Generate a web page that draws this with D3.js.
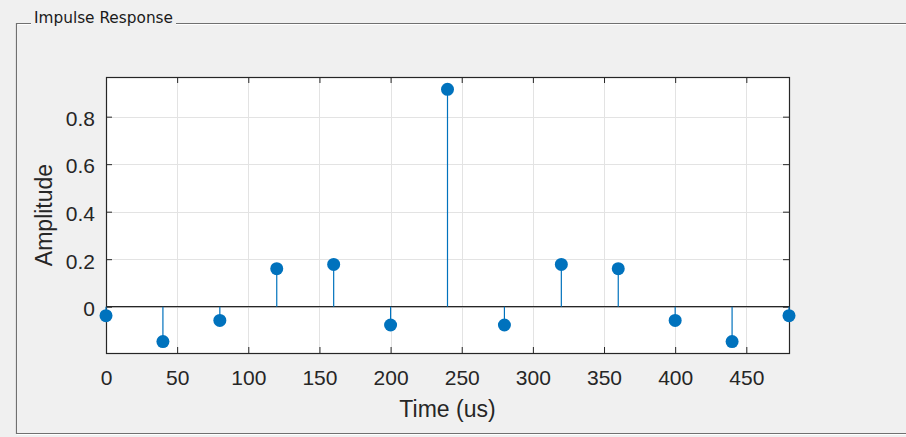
<!DOCTYPE html>
<html>
<head>
<meta charset="utf-8">
<script src="https://cdn.jsdelivr.net/npm/d3@7"></script>
<style>
  html, body { margin: 0; padding: 0; background: #f0f0f0; }
  svg { display: block; }
  text { font-family: "Liberation Sans", Arial, sans-serif; fill: #262626; }
</style>
</head>
<body>
<svg id="chart" width="906" height="437"></svg>
<script>
// Impulse response samples (time in microseconds, amplitude)
const times = [0, 40, 80, 120, 160, 200, 240, 280, 320, 360, 400, 440, 480];
const amplitudes = [-0.038, -0.147, -0.058, 0.160, 0.178, -0.077, 0.915, -0.077, 0.178, 0.160, -0.058, -0.147, -0.038];
const xTicks = [0, 50, 100, 150, 200, 250, 300, 350, 400, 450];
const yTicks = [0, 0.2, 0.4, 0.6, 0.8];
const xDomain = [0, 480];
const yDomain = [-0.195, 0.967];

const panelTitle = "Impulse Response";
const xLabel = "Time (us)";
const yLabel = "Amplitude";

const svg = d3.select("#chart");
const W = 906, H = 437;

// Panel frame (etched border with title gap)
const panel = { left: 16, top: 23, bottom: 433, titleX: 34 };
const frame = svg.append("g");
frame.append("text")
  .attr("x", panel.titleX).attr("y", panel.top + 0)
  .attr("font-size", 15.5)
  .style("font-family", "'DejaVu Sans', 'Liberation Sans', sans-serif")
  .style("fill", "#1a1a1a")
  .attr("textLength", 139)
  .attr("lengthAdjust", "spacingAndGlyphs")
  .text(panelTitle);
const titleEnd = panel.titleX + 139 + 3;

function etched(d) {
  frame.append("path").attr("d", d).attr("fill", "none").attr("stroke", "#707070").attr("stroke-width", 1.2);
}
function highlight(d) {
  frame.append("path").attr("d", d).attr("fill", "none").attr("stroke", "#ffffff").attr("stroke-width", 1);
}
const L = panel.left + 0.5, T = panel.top + 0.5, B = panel.bottom + 0.5;
highlight(`M${L + 1},${T + 1}H${panel.titleX - 3}M${titleEnd},${T + 1}H${W}M${L + 1},${T + 1}V${B - 1}M${L},${B + 1}H${W}`);
etched(`M${panel.titleX - 3},${T}H${L}V${B}H${W}M${titleEnd},${T}H${W}`);

// Axes
const plot = { left: 106, right: 789, top: 77, bottom: 353 };
const x = d3.scaleLinear().domain(xDomain).range([plot.left, plot.right]);
const y = d3.scaleLinear().domain(yDomain).range([plot.bottom, plot.top]);

svg.append("rect")
  .attr("x", plot.left).attr("y", plot.top)
  .attr("width", plot.right - plot.left).attr("height", plot.bottom - plot.top)
  .attr("fill", "#ffffff");

// Grid lines
const grid = svg.append("g").attr("stroke", "#e3e3e3").attr("stroke-width", 1);
grid.selectAll(".gx").data(xTicks.filter(t => t > xDomain[0])).join("line")
  .attr("x1", d => Math.round(x(d)) + 0.5).attr("x2", d => Math.round(x(d)) + 0.5)
  .attr("y1", plot.top).attr("y2", plot.bottom);
grid.selectAll(".gy").data(yTicks).join("line")
  .attr("y1", d => Math.round(y(d)) + 0.5).attr("y2", d => Math.round(y(d)) + 0.5)
  .attr("x1", plot.left).attr("x2", plot.right);

// Axes with inward ticks
const axisColor = "#262626";
const xAxisBottom = svg.append("g")
  .attr("transform", `translate(0,${plot.bottom})`)
  .call(d3.axisBottom(x).tickValues(xTicks).tickSize(-6).tickPadding(17).tickFormat(d3.format("d")));
const xAxisTop = svg.append("g")
  .attr("transform", `translate(0,${plot.top})`)
  .call(d3.axisTop(x).tickValues(xTicks).tickSize(-6).tickFormat(""));
const yAxisLeft = svg.append("g")
  .attr("transform", `translate(${plot.left},0)`)
  .call(d3.axisLeft(y).tickValues(yTicks).tickSize(-6).tickPadding(11).tickFormat(d => d === 0 ? "0" : d3.format(".1f")(d)));
const yAxisRight = svg.append("g")
  .attr("transform", `translate(${plot.right},0)`)
  .call(d3.axisRight(y).tickValues(yTicks).tickSize(-6).tickFormat(""));

[xAxisBottom, xAxisTop, yAxisLeft, yAxisRight].forEach(g => {
  g.select(".domain").remove();
  g.selectAll(".tick line").attr("stroke", axisColor);
  g.selectAll(".tick text")
    .attr("font-size", 21)
    .style("font-family", "'Liberation Sans', Arial, sans-serif")
    .attr("fill", "#303030");
});
yAxisLeft.selectAll(".tick text").attr("dy", "0.42em");

// Axes box
svg.append("rect")
  .attr("x", plot.left + 0.5).attr("y", plot.top + 0.5)
  .attr("width", plot.right - plot.left).attr("height", plot.bottom - plot.top)
  .attr("fill", "none").attr("stroke", axisColor).attr("stroke-width", 1.2);

// Stem baseline at zero
svg.append("line")
  .attr("x1", plot.left).attr("x2", plot.right)
  .attr("y1", y(0)).attr("y2", y(0))
  .attr("stroke", axisColor).attr("stroke-width", 1.2);

// Stems and markers
const data = times.map((t, i) => ({ t, v: amplitudes[i] }));
const stemColor = "#0072BD";
svg.append("g").selectAll("line").data(data).join("line")
  .attr("x1", d => x(d.t)).attr("x2", d => x(d.t))
  .attr("y1", y(0)).attr("y2", d => y(d.v))
  .attr("stroke", stemColor).attr("stroke-width", 1.2);
svg.append("g").selectAll("circle").data(data).join("circle")
  .attr("cx", d => x(d.t)).attr("cy", d => y(d.v))
  .attr("r", 6.5)
  .attr("fill", stemColor);

// Axis labels
svg.append("text")
  .attr("x", (plot.left + plot.right) / 2).attr("y", 417)
  .attr("text-anchor", "middle").attr("font-size", 23)
  .attr("fill", "#303030")
  .text(xLabel);
svg.append("text")
  .attr("transform", `translate(52,${(plot.top + plot.bottom) / 2}) rotate(-90)`)
  .attr("text-anchor", "middle").attr("font-size", 23)
  .attr("fill", "#303030")
  .text(yLabel);
</script>
</body>
</html>
